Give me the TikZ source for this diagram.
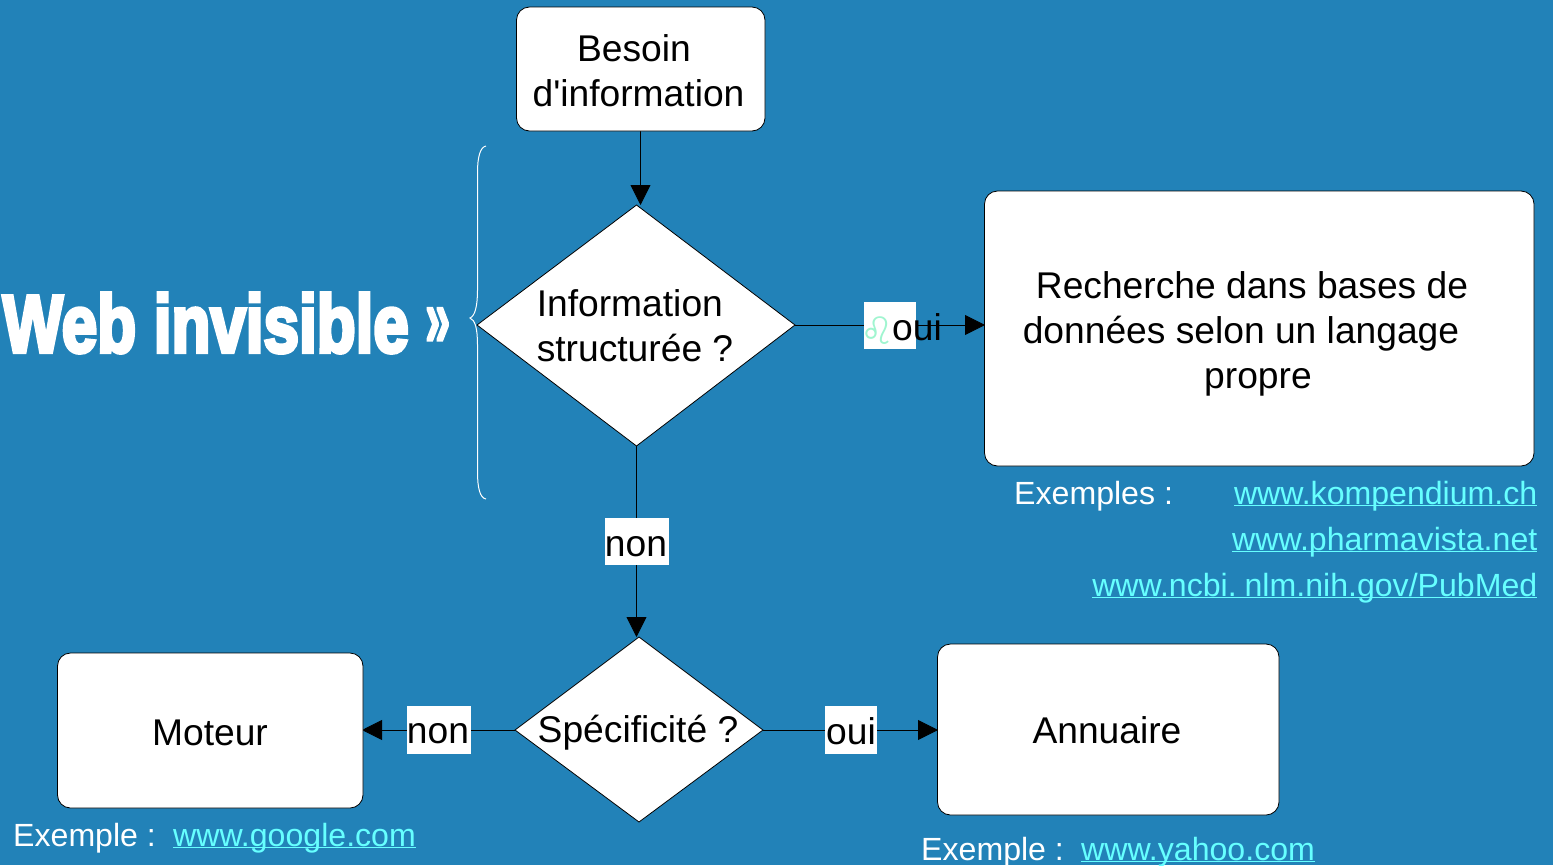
\documentclass[tikz,border=0pt]{standalone}
\usepackage{fontspec}
\setmainfont{Liberation Sans}
\newfontfamily\symf{DejaVu Sans}
\newfontfamily\plainf{Liberation Sans}
\usetikzlibrary{arrows.meta,shapes.geometric}
\definecolor{bgblue}{HTML}{2282B8}
\definecolor{linkc}{HTML}{66FFFF}
\definecolor{leoc}{HTML}{A0F5D0}
\newcommand{\lnk}[1]{\underline{\smash{#1}}}
\tikzset{
 x=1pt,y=-1pt,
 body/.style={font=\fontsize{37.2}{45}\selectfont,text=black,align=center,inner sep=0pt},
 boxn/.style={draw=black,fill=white,rounded corners=13pt,line width=0.8pt},
 diam/.style={draw=black,fill=white,line width=0.8pt},
 conn/.style={draw=black,line width=0.8pt},
 tip/.style={-{Triangle[length=20pt,width=20pt]}},
 note/.style={text=white,font=\fontsize{32.1}{46}\selectfont,inner sep=0pt,anchor=base west},
 lk/.style={text=linkc,font=\fontsize{32.1}{46}\selectfont,inner sep=0pt}
}
\begin{document}
\begin{tikzpicture}
\useasboundingbox (0,0) rectangle (1553,865);
\fill[bgblue] (0,0) rectangle (1553,865);
% connectors first
\coordinate (c1) at (640.5,131);
\coordinate (d1top) at (640.5,205);
\coordinate (d1r) at (795,325);
\coordinate (b2l) at (985,325);
\coordinate (d1b) at (636.5,446);
\coordinate (d2t) at (636.5,637);
\coordinate (d2l) at (515,730);
\coordinate (mr) at (362,730);
\coordinate (d2r) at (763,730);
\coordinate (al) at (938,730);
\draw[conn,tip] (c1) -- (d1top);
\draw[conn,tip] (d1r) -- (b2l);
\draw[conn,tip] (d1b) -- (d2t);
\draw[conn,tip] (d2l) -- (mr);
\draw[conn,tip] (d2r) -- (al);
% boxes
\draw[boxn] (516.5,7) rectangle (765,131);
\node[body] (besoin) at (638.5,71) {Besoin\hspace*{9pt}\\d{\plainf '}information};
\draw[boxn] (984.5,191) rectangle (1534,466);
\node[body] (rech) at (1241,334) {\hspace*{22pt}Recherche dans bases de\\données selon un langage\\\hspace*{34pt}propre};
\draw[boxn] (57.5,653) rectangle (363,808);
\node[body] (moteur) at (210,733) {Moteur};
\draw[boxn] (937.5,644) rectangle (1279,815);
\node[body] (annu) at (1107,730) {Annuaire};
% diamonds
\draw[diam] (477,325) -- (636.5,205) -- (795,325) -- (636.5,446) -- cycle;
\node[body,align=left] (info) at (635,326) {Information\\structurée ?};
\draw[diam] (515,730) -- (639,637) -- (763,730) -- (639,822) -- cycle;
\node[body] (spec) at (638,733) {Spécificité ?};
% labels
\fill[white] (605,518) rectangle (669,565);
\node[body] (non1) at (636,547) {non};
\fill[white] (407,706) rectangle (471,754);
\node[body] (non2) at (438,734) {non};
\fill[white] (825,706) rectangle (877,754);
\node[body] (oui2) at (851,731) {oui};
\fill[white] (864,302) rectangle (916,349);
\node[body,text=leoc,font=\symf\fontsize{38}{38}\selectfont] (leo) at (878,331) {♌};
\node[body] (oui1) at (917,327.5) {oui};
% title
\node[inner sep=0pt,anchor=east,text=white] (web) at (409,323)
 {\resizebox{406pt}{59pt}{\fontspec{Liberation Sans Bold}[FakeBold=5]Web invisible}};
\node[inner sep=0pt,anchor=west,text=white] (guil) at (425,327)
 {\resizebox{25pt}{38pt}{\fontspec{Liberation Sans Bold}[FakeBold=3]»}};
% brace
\draw[white,line width=1pt] (486,146) .. controls (480,147) and (477.5,158) .. (477.5,172)
 -- (477.5,290) .. controls (477.5,306) and (475,316) .. (470,318)
 .. controls (475,320) and (477.5,328) .. (477.5,345)
 -- (477.5,472) .. controls (477.5,488) and (480,498) .. (486,499);
% notes
\node[note] (ex1) at (1014,504) {Exemples :};
\node[lk,anchor=base east] (k1) at (1537.5,504) {\lnk{www.kompendium.ch}};
\node[lk,anchor=base east] (k2) at (1537.5,550) {\lnk{www.pharmavista.net}};
\node[lk,anchor=base east] (k3) at (1537.5,596) {\lnk{www.ncbi.\kern-4pt{} nlm.nih.gov/PubMed}};
\node[note] (ex2) at (13,846) {Exemple :};
\node[lk,anchor=base west] (g) at (173,846) {\lnk{www.google.com}};
\node[note] (ex3) at (921,860) {Exemple :};
\node[lk,anchor=base west] (y) at (1081,860) {\lnk{www.yahoo.com}};
\end{tikzpicture}
\end{document}
